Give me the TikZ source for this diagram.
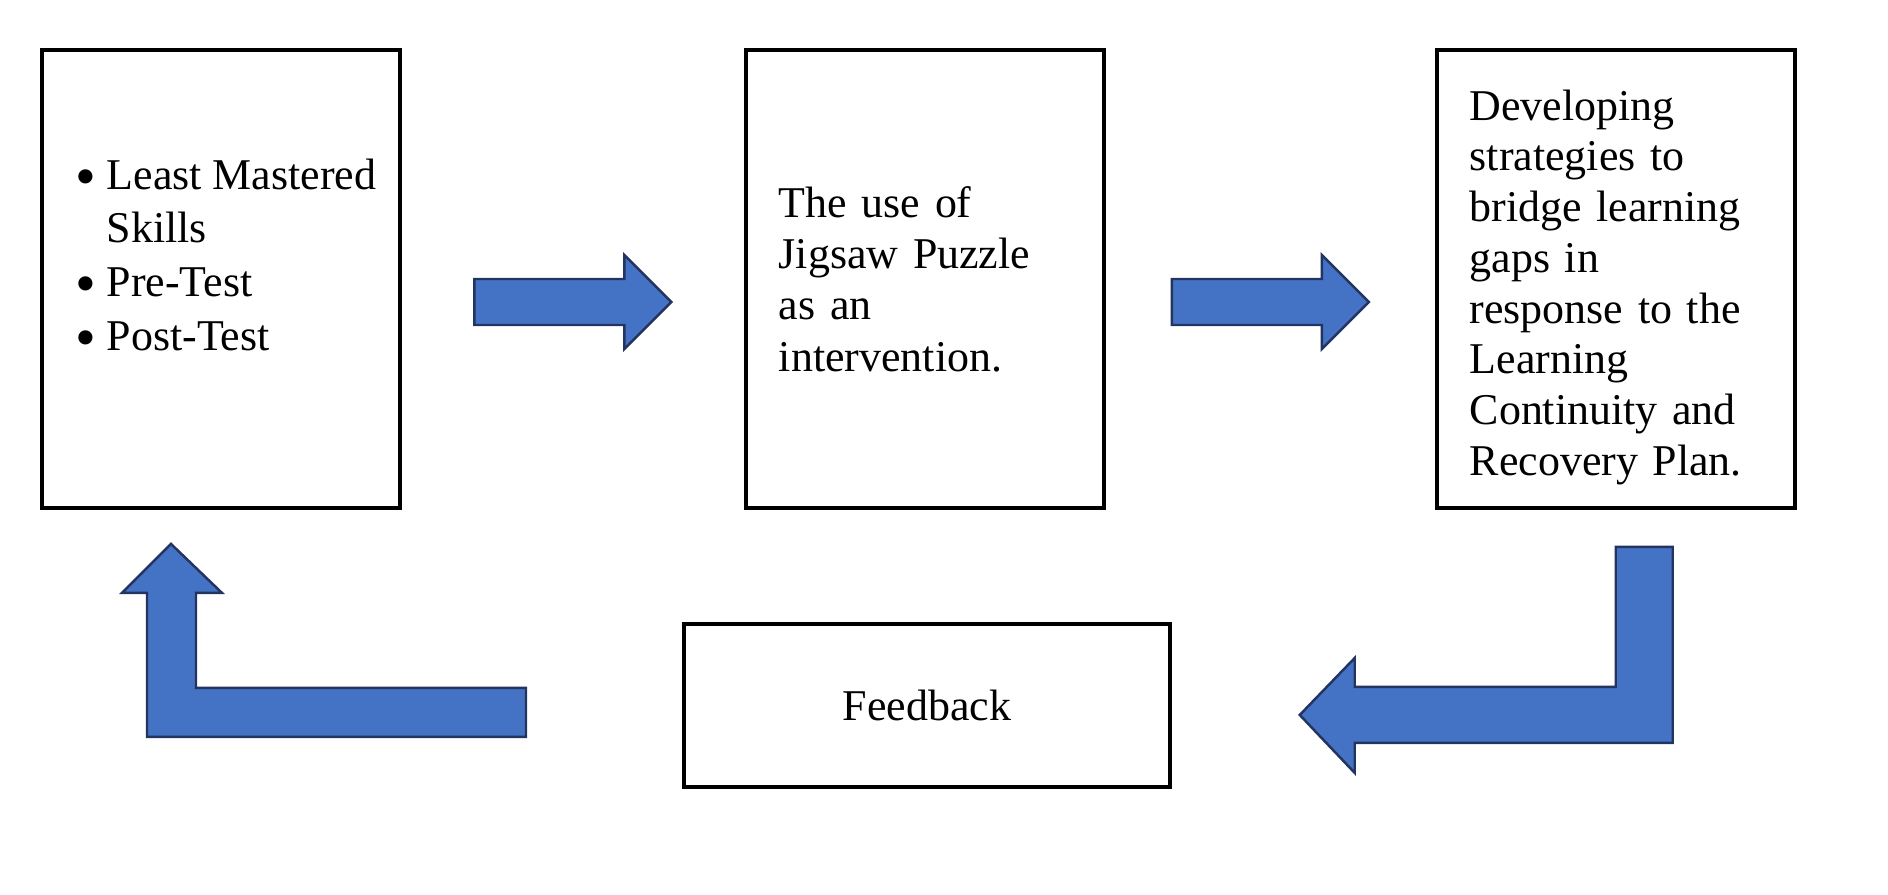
\documentclass[tikz,border=0pt]{standalone}
\usepackage{fontspec}
\setmainfont{Liberation Serif}
\usepackage{xcolor}
\usetikzlibrary{positioning, calc}

\definecolor{arrowblue}{HTML}{4472C4}
\definecolor{arrowedge}{HTML}{22345F}
\newcommand{\listbullet}{\makebox[0.31cm][l]{\raisebox{-0.35ex}{\scalebox{1.35}{\textbullet}}}}

\begin{document}
\begin{tikzpicture}[
  box/.style={draw, line width=1.1pt, minimum width=3.58cm, minimum height=4.58cm,
    inner xsep=0.33cm, text width=2.92cm, align=left, font=\fontsize{12.5}{14.6}\selectfont},
  blockarrow/.style={fill=arrowblue, draw=arrowedge, line width=0.7pt, line join=miter}]
\useasboundingbox (0,0) rectangle (18.88,8.94);

% Top row - the three stages
\node[box] (skills) at (2.21,6.15) {};
\node[box, right=3.42cm of skills] (jigsaw) {The use of\\Jigsaw Puzzle\\as an\\intervention.};
\node[box, right=3.29cm of jigsaw, font=\fontsize{12.5}{14.45}\selectfont] (strategies)
  {\rule{0pt}{0.47cm}Developing\\strategies to\\bridge learning\\gaps in\\response to the\\Learning\\Continuity and\\Recovery Plan.};
\node[anchor=west, inner sep=0pt, align=left, font=\fontsize{12.5}{15.3}\selectfont] (skillslist)
  at ($(skills.west)+(0.35,0.21)$)
  {\listbullet Least Mastered\\\hspace*{0.31cm}Skills\\
   \listbullet Pre-Test\\\listbullet Post-Test};

% Bottom row
\node[draw, line width=1.1pt, minimum width=4.86cm, minimum height=1.63cm,
  font=\fontsize{12.5}{14.6}\selectfont] (feedback) at (9.27,1.885) {Feedback};

% Straight block arrows
\foreach \from/\to in {skills/jigsaw, jigsaw/strategies} {
  \coordinate (mid) at ($(\from.east)!0.5!(\to.west)+(0,-0.23)$);
  \draw[blockarrow] (mid) ++(-0.985,0.23) -- ++(1.5,0) -- ++(0,0.24) -- ++(0.47,-0.47)
    -- ++(-0.47,-0.47) -- ++(0,0.24) -- ++(-1.5,0) -- cycle;
}

% Bent block arrows
\draw[blockarrow] ($(strategies.south)+(0,-0.37)$) -- ++(0.57,0) -- ++(0,-1.96) -- ++(-3.18,0)
  -- ++(0,-0.30) -- ++(-0.55,0.58) -- ++(0.55,0.57) -- ++(0,-0.29) -- ++(2.61,0) -- cycle;
\draw[blockarrow] ($(skills.south)+(-0.50,-0.34)$) -- ++(0.51,-0.49) -- ++(-0.26,0) -- ++(0,-0.95)
  -- ++(3.30,0) -- ++(0,-0.49) -- ++(-3.79,0) -- ++(0,1.44) -- ++(-0.25,0) -- cycle;
\end{tikzpicture}
\end{document}
